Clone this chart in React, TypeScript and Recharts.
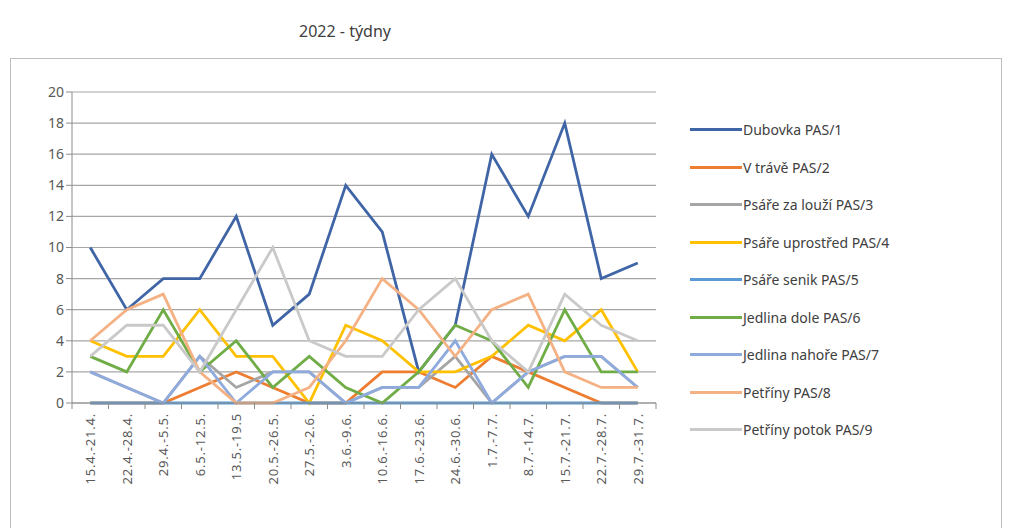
import React from 'react';
import { LineChart, Line, XAxis, YAxis, CartesianGrid, Legend } from 'recharts';

const weeks = [
  '15.4.-21.4.', '22.4.-28.4.', '29.4.-5.5.', '6.5.-12.5.', '13.5.-19.5', '20.5.-26.5.',
  '27.5.-2.6.', '3.6.-9.6.', '10.6.-16.6.', '17.6.-23.6.', '24.6.-30.6.', '1.7.-7.7.',
  '8.7.-14.7.', '15.7.-21.7.', '22.7.-28.7.', '29.7.-31.7.',
];

const dubovka = [10, 6, 8, 8, 12, 5, 7, 14, 11, 2, 5, 16, 12, 18, 8, 9];
const vTrave = [0, 0, 0, 1, 2, 1, 0, 0, 2, 2, 1, 3, 2, 1, 0, 0];
const psareLouzi = [2, 1, 0, 3, 1, 2, 2, 0, 1, 1, 3, 0, 2, 3, 3, 1];
const psareUprostred = [4, 3, 3, 6, 3, 3, 0, 5, 4, 2, 2, 3, 5, 4, 6, 2];
const psareSenik = [0, 0, 0, 0, 0, 0, 0, 0, 0, 0, 0, 0, 0, 0, 0, 0];
const jedlinaDole = [3, 2, 6, 2, 4, 1, 3, 1, 0, 2, 5, 4, 1, 6, 2, 2];
const jedlinaNahore = [2, 1, 0, 3, 0, 2, 2, 0, 1, 1, 4, 0, 2, 3, 3, 1];
const petriny = [4, 6, 7, 2, 0, 0, 1, 4, 8, 6, 3, 6, 7, 2, 1, 1];
const petrinyPotok = [3, 5, 5, 2, 6, 10, 4, 3, 3, 6, 8, 4, 2, 7, 5, 4];

const yTicks = [0, 2, 4, 6, 8, 10, 12, 14, 16, 18, 20];

const series = [
  { key: 's1', name: 'Dubovka PAS/1', values: dubovka, color: '#4065a6' },
  { key: 's2', name: 'V trávě PAS/2', values: vTrave, color: '#ed7d31' },
  { key: 's3', name: 'Psáře za louží PAS/3', values: psareLouzi, color: '#a5a5a5' },
  { key: 's4', name: 'Psáře uprostřed PAS/4', values: psareUprostred, color: '#ffc000' },
  { key: 's5', name: 'Psáře senik PAS/5', values: psareSenik, color: '#5b9bd5' },
  { key: 's6', name: 'Jedlina dole PAS/6', values: jedlinaDole, color: '#70ad47' },
  { key: 's7', name: 'Jedlina nahoře PAS/7', values: jedlinaNahore, color: '#8faadc' },
  { key: 's8', name: 'Petříny PAS/8', values: petriny, color: '#f4b183' },
  { key: 's9', name: 'Petříny potok PAS/9', values: petrinyPotok, color: '#c9c9c9' },
];

const data = weeks.map((w, i) => {
  const row: any = { week: w };
  series.forEach((s) => { row[s.key] = s.values[i]; });
  return row;
});

const FONT = '"Noto Sans", "Open Sans", sans-serif';
const HALF_BAND = 584 / weeks.length / 2;

const WeekTick = (props: any) => {
  const { x, y, payload, index } = props;
  return (
    <g>
      <line x1={x - HALF_BAND} y1={y - 8} x2={x - HALF_BAND} y2={y - 2} stroke="#8c8c8c" />
      {index === weeks.length - 1 && (
        <line x1={x + HALF_BAND} y1={y - 8} x2={x + HALF_BAND} y2={y - 2} stroke="#8c8c8c" />
      )}
      <text
        x={x}
        y={y + 2}
        transform={`rotate(-90, ${x}, ${y + 2})`}
        textAnchor="end"
        dy={5}
        fill="#595959"
        fontSize={13}
        fontFamily={FONT}
        style={{ letterSpacing: 0.8 }}
      >
        {payload.value}
      </text>
    </g>
  );
};

const LegendList = () => (
  <div style={{ fontFamily: FONT, fontSize: 14, color: '#404040' }}>
    {series.map((s) => (
      <div key={s.key} style={{ display: 'flex', alignItems: 'center', height: 37.5 }}>
        <div style={{ width: 52, height: 3, background: s.color }} />
        <span style={{ marginLeft: 1 }}>{s.name}</span>
      </div>
    ))}
  </div>
);

export default function App() {
  return (
    <div style={{ position: 'absolute', left: 0, top: 0, width: 1012, height: 528, background: '#fff', overflow: 'hidden' }}>
      <div
        style={{
          position: 'absolute', left: 10, top: 58, width: 992, height: 480,
          border: '1px solid #bfbfbf', boxSizing: 'border-box',
        }}
      />
      <div
        style={{
          position: 'absolute', left: 0, width: 690, top: 20, textAlign: 'center',
          fontFamily: FONT, fontSize: 16, color: '#404040',
        }}
      >
        2022 - týdny
      </div>
      <div style={{ position: 'absolute', left: 0, top: 0 }}>
        <LineChart
          width={1012}
          height={528}
          data={data}
          margin={{ top: 92, right: 356, left: 0, bottom: 15 }}
        >
          <CartesianGrid vertical={false} stroke="#a6a6a6" strokeWidth={1.2} />
          <XAxis
            dataKey="week"
            height={110}
            interval={0}
            padding={{ left: HALF_BAND, right: HALF_BAND }}
            tickLine={false}
            axisLine={{ stroke: '#8c8c8c' }}
            tick={<WeekTick />}
          />
          <YAxis
            width={72}
            domain={[0, 20]}
            ticks={yTicks}
            interval={0}
            tickSize={6}
            tickLine={{ stroke: '#8c8c8c' }}
            axisLine={{ stroke: '#8c8c8c' }}
            tick={{ fill: '#595959', fontSize: 14, fontFamily: FONT }}
          />
          <Legend
            layout="vertical"
            align="center"
            verticalAlign="middle"
            content={<LegendList />}
            wrapperStyle={{ position: 'absolute', left: 690, top: 111, width: 300 }}
          />
          {series.map((s) => (
            <Line
              key={s.key}
              type="linear"
              dataKey={s.key}
              name={s.name}
              stroke={s.color}
              strokeWidth={2.8}
              dot={false}
              isAnimationActive={false}
            />
          ))}
        </LineChart>
      </div>
    </div>
  );
}
